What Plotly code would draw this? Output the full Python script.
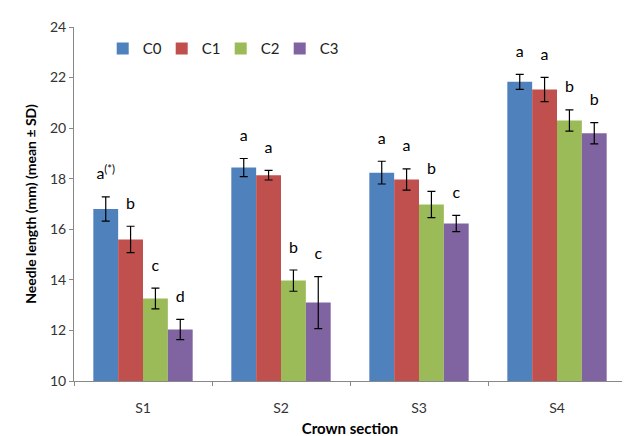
import plotly.graph_objects as go

sections = ["S1", "S2", "S3", "S4"]
series_names = ["C0", "C1", "C2", "C3"]
means = {
    "C0": [16.8, 18.44, 18.24, 21.83],
    "C1": [15.6, 18.14, 17.97, 21.53],
    "C2": [13.26, 13.97, 16.98, 20.3],
    "C3": [12.04, 13.1, 16.23, 19.8],
}
sds = {
    "C0": [0.48, 0.36, 0.45, 0.3],
    "C1": [0.52, 0.19, 0.42, 0.48],
    "C2": [0.41, 0.42, 0.52, 0.42],
    "C3": [0.4, 1.03, 0.32, 0.42],
}
letters = {
    "C0": ["a<sup>(*)</sup>", "a", "a", "a"],
    "C1": ["b", "a", "a", "a"],
    "C2": ["c", "b", "b", "b"],
    "C3": ["d", "c", "c", "b"],
}
colors = {"C0": "#4F81BD", "C1": "#C0504D", "C2": "#9BBB59", "C3": "#8064A2"}

font_family = "Lato, 'Open Sans', sans-serif"

fig = go.Figure()
for s in series_names:
    fig.add_trace(go.Bar(
        x=sections, y=means[s], name=s, offsetgroup=s,
        marker=dict(color=colors[s], line=dict(width=0)),
        error_y=dict(type="data", array=sds[s], visible=True,
                     color="black", thickness=1.2, width=4),
    ))
for s in series_names:
    tops = [m + d for m, d in zip(means[s], sds[s])]
    fig.add_trace(go.Scatter(
        x=sections, y=tops, mode="markers+text", text=letters[s], offsetgroup=s,
        marker=dict(size=20, opacity=0),
        textposition="top center", showlegend=False, hoverinfo="skip",
        textfont=dict(size=16, color="black", family=font_family),
    ))

fig.update_layout(
    width=630, height=436,
    margin=dict(l=66, r=12, t=10, b=62),
    paper_bgcolor="white", plot_bgcolor="white",
    barmode="group", scattermode="group", bargap=0.28, bargroupgap=0,
    font=dict(family=font_family, size=14, color="#333333"),
    legend=dict(orientation="h", x=0.052, y=0.985, xanchor="left", yanchor="top",
                font=dict(size=15, color="#222222"), bgcolor="rgba(0,0,0,0)",
                entrywidth=14, entrywidthmode="pixels", itemwidth=30),
    showlegend=True,
)
fig.update_yaxes(
    range=[10, 24], dtick=2, showgrid=False, zeroline=False,
    showline=True, linecolor="#888888", linewidth=1,
    ticks="outside", ticklen=4, tickcolor="#888888",
    tickfont=dict(size=14, color="#333333"),
    title=dict(text="<b>Needle length (mm) (mean ± SD)</b>", font=dict(size=14, color="black"), standoff=10),
)
fig.update_xaxes(
    showgrid=False, showline=True, linecolor="#888888", linewidth=1,
    ticks="outside", ticklen=4, tickcolor="#888888", tickson="boundaries",
    ticklabelstandoff=14,
    tickfont=dict(size=14, color="#333333"),
    title=dict(text="<b>Crown section</b>", font=dict(size=15, color="black"), standoff=8),
)

fig.write_html("out.html")
